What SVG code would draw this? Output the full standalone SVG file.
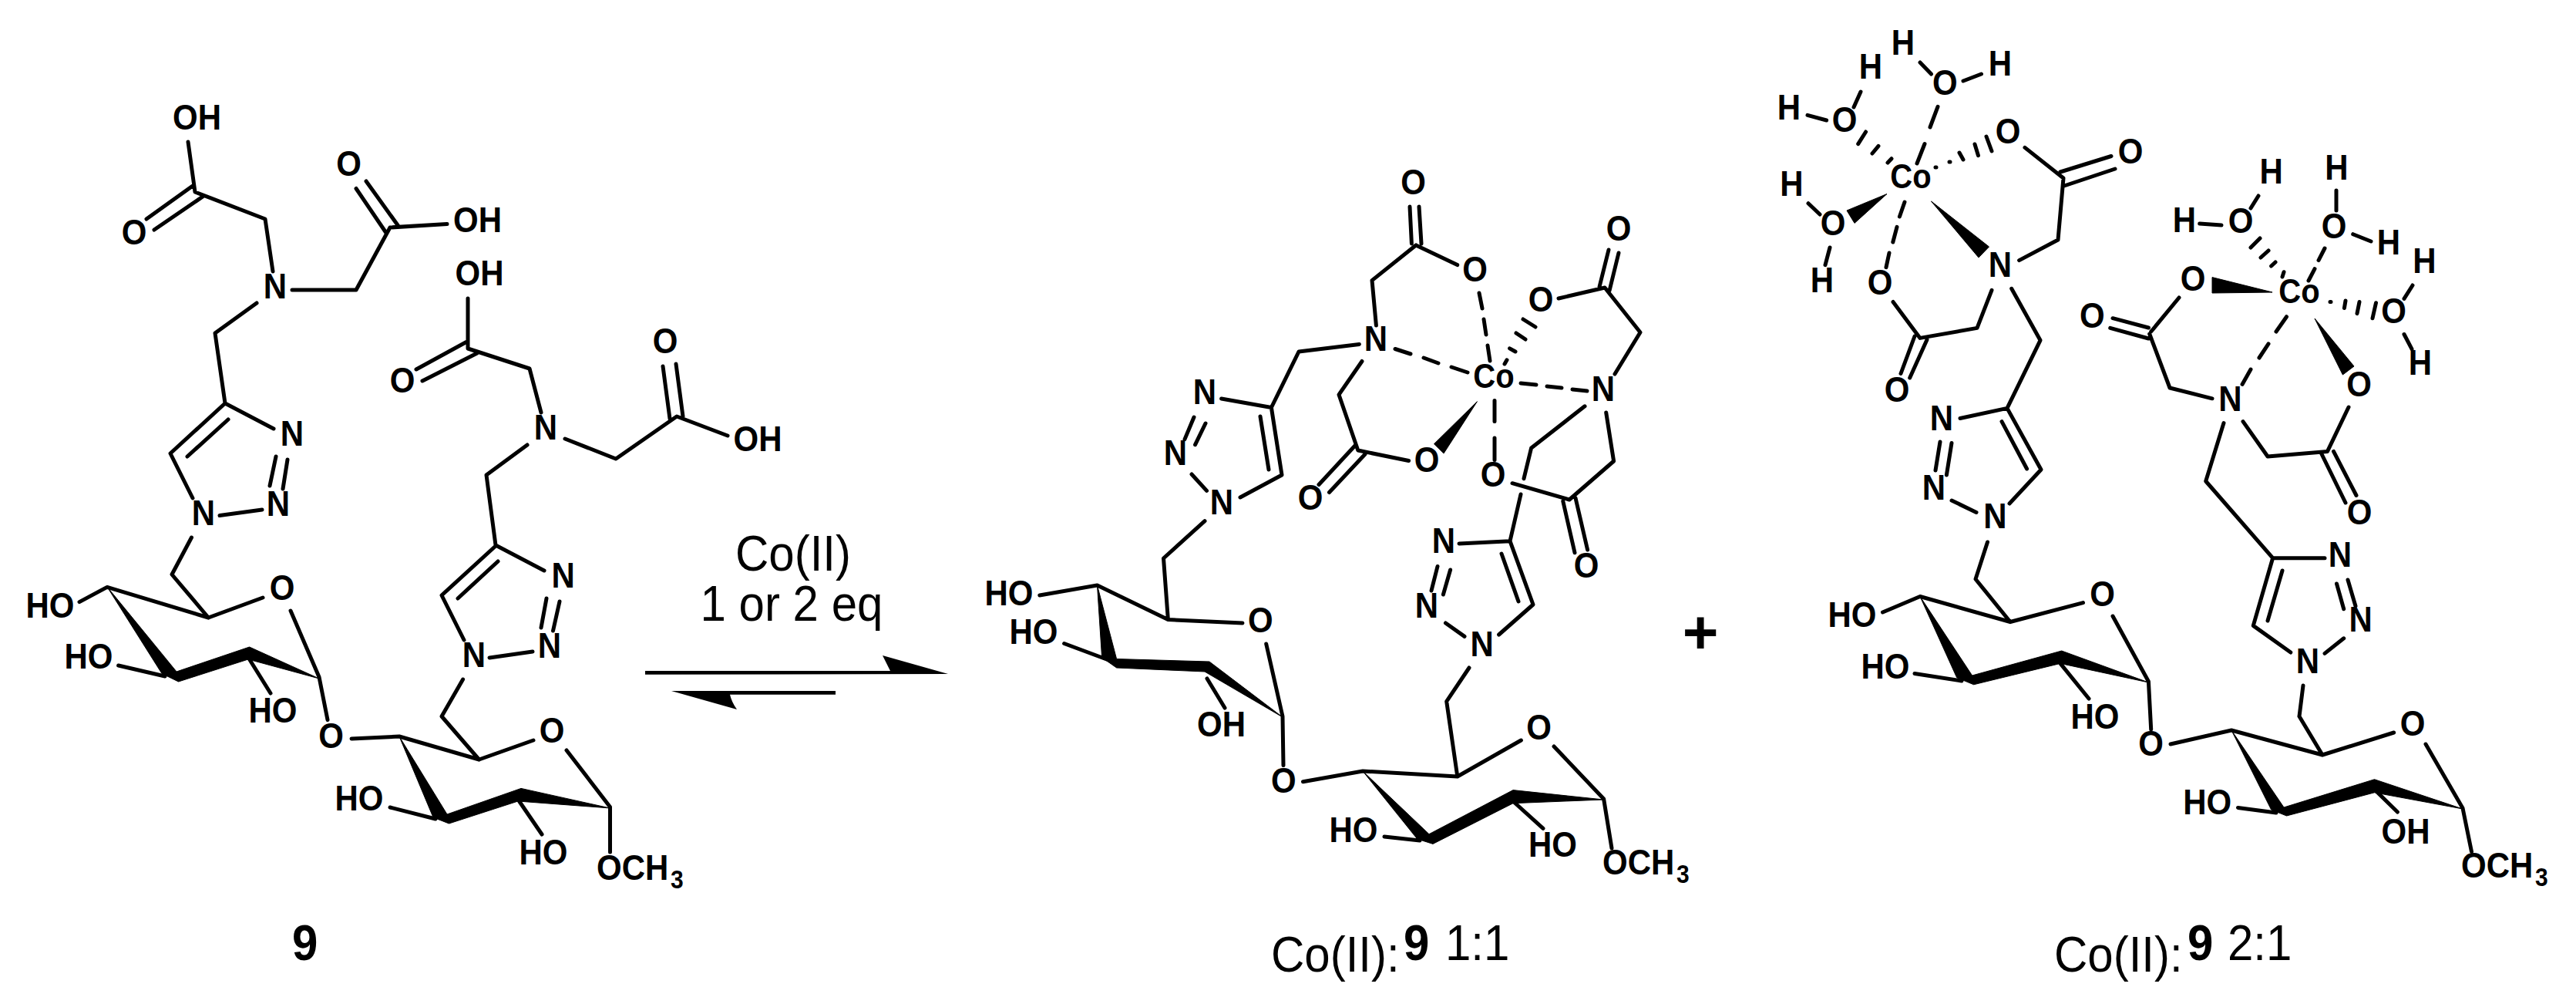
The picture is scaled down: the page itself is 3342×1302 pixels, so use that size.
<svg xmlns="http://www.w3.org/2000/svg" width="3342" height="1302" viewBox="0 0 3342 1302">
<style>
text{font-family:"Liberation Sans",Arial,sans-serif;fill:#000;transform-box:fill-box;transform-origin:center}
.a{font-size:42px;font-weight:700;text-anchor:middle;transform:scaleY(1.12)}
.t{font-size:42px;font-weight:700;transform:scaleY(1.12)}
.c{font-size:40px;font-weight:700;text-anchor:middle;transform:scaleY(1.1)}
.s{font-size:30px;font-weight:700;transform:scaleY(1.12)}
.l{font-size:60px;transform:scaleY(1.09)}
.b{font-size:60px;font-weight:700;transform:scaleY(1.09)}
.m{font-size:60px;text-anchor:middle;transform:scaleY(1.09)}
.bond{fill:none;stroke:#000;stroke-width:5;stroke-linecap:round;stroke-linejoin:round}
.solid{fill:#000;stroke:#000;stroke-width:1;stroke-linejoin:round}
</style>
<rect width="3342" height="1302" fill="#fff"/>
<g id="connectors">
<path id="bonds-9" class="bond" d="M244,184L253,249L344,284L354,352M250,241L190,284M263,255L200,298M379,376H462L506,295L580,290.500M501,302L462,244.500M516,292L475,235M333,393L279,432L292,523L355,556M358,592L350,630M373,596L367,634M340,661L285,668.600M292,523L221,588L250,646M296,544L243,592M607,387V452L687,478L702,535M605,443.500L540,479M619,458L548,494M733,569L799,595L878,540L944,565M869,543L860,475M886,540L877,472M684,577L631,616L643,707L706,740M709,776L702,814M726,780L717.500,818M691,845L635,853M643,708L573,772L602,830M646,728L594,776M600.600,881L573,929L621.500,985M248.500,697L223,745L270.400,801M103,780.600L139,761.400L270.400,801L341,775M377,792L414,878L425,933.600M153.600,863L214,877M323.600,855L351,899M456,958L518,955L621.500,985L692,960M735,973L791.500,1046.500V1105M506,1047L565,1062M673.600,1039L703,1082"/>
<path id="wedges-9" class="solid" d="M139,761L229,871L323.600,839L414,880L322,855L231.500,884L210,873.500ZM518,955L580,1056L676,1022.400L791.500,1048L672,1039L582.500,1068L562,1060Z"/>
<path id="bonds-11" class="bond" d="M1829,268L1831.400,316M1841,268L1844,316M1837,318L1780,363.600L1785.400,422M1837,318L1890.700,343.600M1763.400,446.400L1685,456L1649.400,528.500L1584.600,517M1549,541L1537,569.600M1564,549L1550.600,576.700M1546,615L1565.500,636.400M1609,645L1663,616L1649.400,528.500M1635,540L1646,609M1563,675.700L1509.500,724L1515.400,803.600M1767,468.500L1737,511.800L1761.800,584L1827.600,597.500M1759,576.700L1711,628.500M1771,589L1724.500,638.500M2022,387L2082,373L2128,431L2095,485M2075,372L2087,324M2088,377L2100,328M2056,526.800L1986.600,581L1977,620.700M1973,641L1959,701.700L1893,705M2083.700,535L2093.600,598L2036,648L1962,626.700M2027.800,650L2043,716.700M2044,645.700L2059.600,713M1865,734.500L1857,766M1881.600,739L1872.400,771M1875.500,808L1900,825.400M1944.600,823L1989,784L1959,701.700M1948,718L1970,780M1906,866L1876.700,909.700L1890.800,1007M1348.800,772L1423.500,759L1515.400,803.600L1612,808M1642.700,835L1664,929L1665,992.600M1380.600,834.500L1443.700,858M1566,880L1589,918M1690.500,1013.700L1768,1000L1890.800,1007L1973.400,960M2016,968L2080.600,1036L2091,1100M1796,1085L1842,1090M1964,1040L2002,1074.400"/>
<path id="dashes-11" class="bond" d="M1919,380L1923,400M1925,414L1928,434M1930,448L1933,468M1810,452.500L1830,459M1847,464L1866,471M1883,476L1904,483M1973,497L1993,499M2007,501L2026,503M2040,505L2059,507M1939,519.600V546.400M1939,568V596.400M1955,466.800L1952,472M1958.600,451.800L1966,456M1967,432L1979,440M1976,414L1992,424"/>
<path id="wedges-11" class="solid" d="M1916.400,520.700L1873,588L1860.500,575.700ZM1423.500,759L1448.600,854.500L1569,858L1664,930L1563,871L1448.600,866L1429.600,852.700ZM1768,1000L1854,1081.700L1963,1024.600L2080.600,1037L1963,1041.700L1859,1094.400L1838.700,1088Z"/>
<path id="bonds-21" class="bond" d="M2491,81L2505.500,96M2547,105L2570.500,96M2414,119L2405,139M2345,149.400L2369.600,156M2346,263.700L2361,278M2374,321L2368,343.700M2627,191.400L2677,231L2670,311L2619.600,337.600M2673,223L2739,202.500M2678,241L2744,219M2456,391.500L2491,438.400L2565,425.400L2584,376.400M2484,436L2466,484.500M2500,440.500L2477.700,490M2609.700,374.300L2647,441.300L2604,529.400L2543,542.500M2517,573L2511,610M2532,574.400L2525.400,616M2532,649L2564,664.500M2604,529.400L2648,609L2607,653M2597,546.600L2629.600,608M2578.500,703L2563,751L2608,806.500M2442.500,794L2491,773.500L2608,806.500L2702.500,781.600M2741,799L2787.400,883.700L2790.700,946M2484,873.500L2545,883M2673,860.400L2710,906M2816,965L2895,947L3013,979L3105.700,950M2983,929L3013,979M3147,965L3195,1048L3206.500,1104.500M2903.500,1047.400L2953,1054M3082.500,1025.800L3110.400,1053M2853.700,290L2882,292M2930,254L2920,270M3031,247V273M3052.700,303.700L3076,313M2827,386L2790.700,430M2787.400,425L2741,412.700M2787.400,439L2737.700,425.400M2788.700,433L2815,503L2870,516.800M3130,370L3119,387.400M3119,433.500L3129,452.700M3047,528L3019.500,585.400L2942,592L2910,546.600M3011.600,588L3043,652M3027.500,585.400L3057,642.500M2885,548.600L2861.700,624L2948.600,723.700L3016,723.700M3031.500,757L3040.700,789.800M3046,752L3056,786M3040.700,827.800L3016,847.400M2948.600,723.700L2923.300,811.400L2971.800,846M2961,740L2942,805M2988,889L2983,929"/>
<path id="dashes-21" class="bond" d="M2514,138.400L2504,165M2497,186.500L2487,212M2420.600,171L2410.700,186.600M2437,189.400L2429,199M2454,205.700L2449,211M2511,217L2512,217M2529,210L2530,210M2542,198L2547,207M2562,187L2566.500,201.700M2577,177L2584,196M2471,262L2464.400,281M2461,294.300L2455.800,314M2451,328L2447,346.600M3016,322L3008,337.600M3003,348.600L2995,364M2932,309L2920,321M2943,325L2933,334M2952,340L2946.600,345M2963,352.700L2961,359M2966.500,410.700L2953,430M2943,445.800L2931,464M2920,479L2909,498.400M3023,391.500L3024,391.500M3043,390L3041.400,399.600M3061,391.500L3058,406.600M3082.500,392.700L3078,412.700"/>
<path id="wedges-21" class="solid" d="M2505.500,261L2580.500,320L2567,334ZM2448,251.500L2396,273L2406,289.400ZM2948,379L2870,359.600V380ZM3003,413L3054,475L3039.400,486ZM2491,773.500L2558.600,876L2674.700,844L2787.400,885L2673,860.400L2560.600,887.800L2538.700,878.800ZM2895,947L2963,1047L3080.500,1010.700L3195,1049L3080.500,1027.800L2966.500,1058L2946.600,1050Z"/>
<path id="arrow-forward" fill="#000" d="M1145,850L1230,874L837,874.700V870H1155Q1150,860 1145,850Z"/>
<path id="arrow-back" fill="#000" d="M871,896H1084V900.700H947Q949,910 956,920Z"/>
</g>
<g id="compound-9">
<text class="a" x="255.500" y="166.600">OH</text><text class="a" x="174" y="315">O</text><text class="a" x="357" y="385">N</text><text class="a" x="619.500" y="299">OH</text><text class="a" x="452.500" y="226">O</text><text class="a" x="379" y="576.500">N</text><text class="a" x="361" y="667">N</text><text class="a" x="264" y="679">N</text>
<text class="a" x="622" y="368.600">OH</text><text class="a" x="522" y="507">O</text><text class="a" x="708" y="568">N</text><text class="a" x="983" y="583">OH</text><text class="a" x="863" y="456">O</text><text class="a" x="730.600" y="760">N</text><text class="a" x="713" y="851">N</text><text class="a" x="615" y="863">N</text>
<text class="a" x="65" y="799">HO</text><text class="a" x="115" y="865">HO</text><text class="a" x="354" y="935">HO</text><text class="a" x="366" y="776">O</text><text class="a" x="429.500" y="968">O</text><text class="a" x="716" y="961">O</text><text class="a" x="466" y="1049">HO</text><text class="a" x="705" y="1119">HO</text>
<text class="t" x="774" y="1139">OCH</text><text class="s" x="870" y="1151">3</text>
<text class="b" x="379" y="1243">9</text>
</g>
<g id="reagent">
<text class="m" x="1029" y="738">Co(II)</text><text class="m" x="1027" y="803">1 or 2 eq</text>
</g>
<text id="plus" x="2206" y="847" font-size="80" font-weight="700" text-anchor="middle">+</text>
<g id="complex-1-1">
<text class="a" x="1833.600" y="250">O</text><text class="a" x="1913.700" y="363">O</text><text class="a" x="1785" y="453.500">N</text><text class="a" x="1563" y="522">N</text><text class="a" x="1525" y="601.700">N</text><text class="a" x="1585" y="665">N</text><text class="a" x="1851" y="610.700">O</text><text class="a" x="1700" y="659.600">O</text><text class="c" x="1938" y="502">Co</text><text class="a" x="1937" y="629">O</text><text class="a" x="1999" y="402">O</text><text class="a" x="2100" y="310">O</text><text class="a" x="2080" y="518">N</text><text class="a" x="2058" y="747">O</text><text class="a" x="1873" y="715">N</text><text class="a" x="1851" y="799.700">N</text><text class="a" x="1922.600" y="849">N</text>
<text class="a" x="1309" y="783">HO</text><text class="a" x="1341" y="833">HO</text><text class="a" x="1635.400" y="818">O</text><text class="a" x="1584.600" y="953">OH</text><text class="a" x="1665.400" y="1026">O</text><text class="a" x="1996.700" y="957">O</text><text class="a" x="1756" y="1090.500">HO</text><text class="a" x="2014.400" y="1109">HO</text>
<text class="t" x="2079" y="1132">OCH</text><text class="s" x="2175" y="1144">3</text>
<text class="l" x="1649" y="1258">Co(II):</text><text class="b" x="1821" y="1243">9</text><text class="l" x="1875" y="1243">1:1</text>
</g>
<g id="complex-2-1">
<text class="a" x="2469" y="69">H</text><text class="a" x="2427" y="100">H</text><text class="a" x="2321" y="153">H</text><text class="a" x="2393" y="169">O</text><text class="a" x="2523.400" y="121.500">O</text><text class="a" x="2595" y="96">H</text><text class="c" x="2479" y="243">Co</text><text class="a" x="2605" y="184">O</text><text class="a" x="2764" y="210.500">O</text><text class="a" x="2595" y="357.500">N</text><text class="a" x="2439" y="380">O</text><text class="a" x="2461" y="519.500">O</text><text class="a" x="2378" y="303.600">O</text><text class="a" x="2324.500" y="252">H</text><text class="a" x="2364" y="377">H</text><text class="a" x="2519" y="556">N</text><text class="a" x="2509" y="646">N</text><text class="a" x="2588.400" y="682.800">N</text>
<text class="a" x="2403" y="811">HO</text><text class="a" x="2727.700" y="784.400">O</text><text class="a" x="2446" y="878">HO</text><text class="a" x="2718" y="942.800">HO</text><text class="a" x="2790.700" y="978.700">O</text><text class="a" x="3130" y="951.800">O</text><text class="a" x="2863.700" y="1054">HO</text><text class="a" x="3121" y="1091.800">OH</text>
<text class="t" x="3193" y="1136">OCH</text><text class="s" x="3289" y="1148">3</text>
<text class="a" x="2946.600" y="236">H</text><text class="a" x="2907" y="300">O</text><text class="a" x="2834" y="299.500">H</text><text class="a" x="3031.500" y="231">H</text><text class="a" x="3028" y="307">O</text><text class="a" x="3099" y="328">H</text><text class="c" x="2983" y="392">Co</text><text class="a" x="2845" y="375">O</text><text class="a" x="2714.400" y="423.600">O</text><text class="a" x="2893.500" y="531">N</text><text class="a" x="3145.500" y="352">H</text><text class="a" x="3105.700" y="417.500">O</text><text class="a" x="3140" y="484">H</text><text class="a" x="3060.600" y="512.600">O</text><text class="a" x="3061" y="678.700">O</text><text class="a" x="3036" y="733.400">N</text><text class="a" x="3062.600" y="817.500">N</text><text class="a" x="2994" y="871">N</text>
<text class="l" x="2665" y="1258">Co(II):</text><text class="b" x="2838" y="1243">9</text><text class="l" x="2890" y="1243">2:1</text>
</g>
</svg>
